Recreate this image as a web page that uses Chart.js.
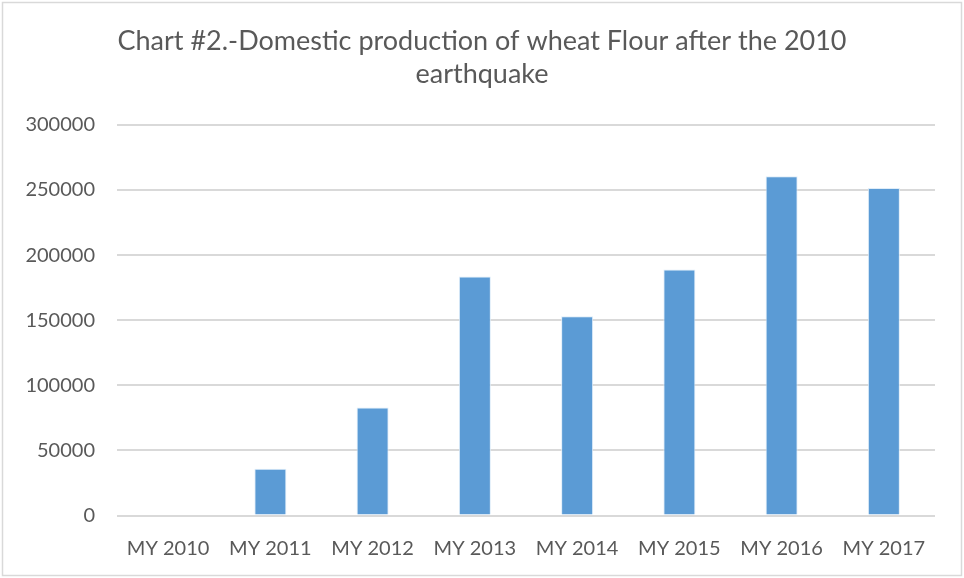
<!DOCTYPE html>
<html>
<head>
<meta charset="utf-8">
<script src="https://cdn.jsdelivr.net/npm/chart.js@4/dist/chart.umd.min.js"></script>
<style>
html,body{margin:0;padding:0;background:#fff;}
#wrap{position:absolute;left:0;top:0;width:964px;height:578px;}
</style>
</head>
<body>
<div id="wrap"><canvas id="c" width="964" height="578"></canvas></div>
<script>
const titleLines = ["Chart #2.-Domestic production of wheat Flour after the 2010", "earthquake"];
const categories = ["MY 2010", "MY 2011", "MY 2012", "MY 2013", "MY 2014", "MY 2015", "MY 2016", "MY 2017"];
const production = [0, 36000, 83000, 183500, 153000, 189000, 260500, 251500];
const yTicks = [0, 50000, 100000, 150000, 200000, 250000, 300000];

const textColor = "#595959";
const fontFam = "Lato, 'Open Sans', sans-serif";

const borderPlugin = {
  id: "frame",
  afterDraw(chart) {
    const ctx = chart.ctx;
    ctx.save();
    ctx.strokeStyle = "#d9d9d9";
    ctx.lineWidth = 1.5;
    ctx.strokeRect(2.5, 2.5, chart.width - 5, chart.height - 5);
    ctx.restore();
  }
};

new Chart(document.getElementById("c"), {
  type: "bar",
  data: {
    labels: categories,
    datasets: [{
      label: "Production",
      data: production,
      backgroundColor: "#5B9BD5",
      borderColor: "rgba(220,235,248,0.9)",
      borderWidth: 1,
      categoryPercentage: 1,
      barPercentage: 0.313
    }]
  },
  options: {
    responsive: false,
    animation: false,
    devicePixelRatio: 1,
    layout: { padding: { left: 0, right: 0, top: 0, bottom: 8 } },
    plugins: {
      legend: { display: false },
      tooltip: { enabled: false },
      title: {
        display: true,
        text: titleLines,
        color: textColor,
        font: { family: fontFam, size: 27, weight: "normal", lineHeight: 1.22 },
        padding: { top: 25, bottom: 34 }
      }
    },
    scales: {
      x: {
        grid: { display: false, drawTicks: false },
        border: { display: false },
        ticks: { color: textColor, font: { family: fontFam, size: 20 }, padding: 21, maxRotation: 0 },
        afterFit(s) { s.height = 54.5; }
      },
      y: {
        min: 0,
        max: 300000,
        afterBuildTicks(s) { s.ticks = yTicks.map(v => ({ value: v })); },
        grid: { color: "#d9d9d9", lineWidth: 2, drawTicks: false },
        border: { display: false },
        ticks: { color: textColor, font: { family: fontFam, size: 20 }, padding: 22, callback: v => String(v) },
        afterFit(s) { s.width = 117; }
      },
      ySpacer: {
        position: "right",
        min: 0,
        max: 1,
        grid: { display: false, drawTicks: false },
        border: { display: false },
        ticks: { display: false },
        afterFit(s) { s.width = 29; }
      }
    }
  },
  plugins: [borderPlugin]
});
</script>
</body>
</html>
